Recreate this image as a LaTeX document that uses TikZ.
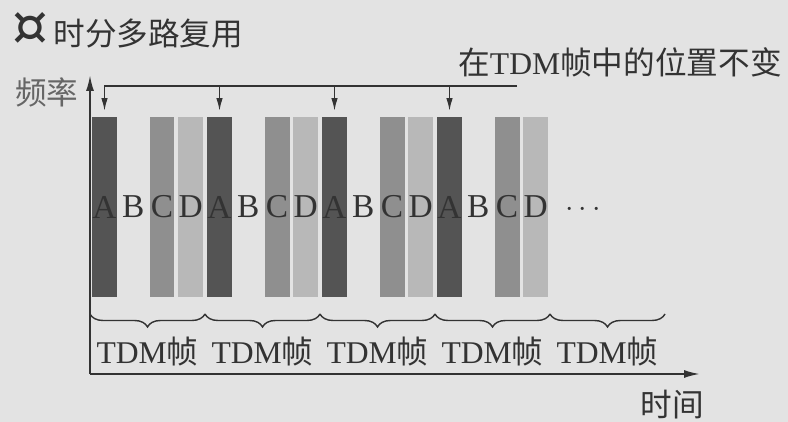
\documentclass[tikz,border=0pt]{standalone}
\usepackage{fontspec}
\setmainfont{Liberation Serif}
\newfontfamily\cjk{Noto Sans CJK SC}
\newfontfamily\symfont{DejaVu Sans}
\usetikzlibrary{arrows.meta,decorations.pathreplacing}
\definecolor{paper}{gray}{0.89}
\definecolor{ink}{gray}{0.2}
\definecolor{darkbar}{gray}{0.33}
\definecolor{midbar}{gray}{0.56}
\definecolor{lightbar}{gray}{0.72}

\begin{document}
\begin{tikzpicture}[
    x=0.02cm, y=0.02cm,
    slot/.style={rectangle, minimum width=0.5cm, minimum height=3.62cm, inner sep=0pt, text=ink, font=\fontsize{19}{19}\selectfont},
    slotA/.style={slot, fill=darkbar},
    slotB/.style={slot},
    slotC/.style={slot, fill=midbar},
    slotD/.style={slot, fill=lightbar},
    axis/.style={-{Latex[length=0.32cm, width=0.16cm]}, line width=1.1pt, ink},
    pointer/.style={-{Latex[length=0.26cm, width=0.13cm]}, line width=1pt, ink, shorten >=0.1cm},
    brace/.style={decorate, decoration={brace, amplitude=0.26cm, mirror}, line width=0.8pt, ink},
    label/.style={font=\fontsize{18}{18}\selectfont, text=ink, inner sep=0pt},
]
    \fill[paper] (0,0) rectangle (788,422);
    \useasboundingbox (0,0) rectangle (788,422);

    % title
    \node[label, anchor=west] (title) at (12,392) {{\symfont\fontsize{32}{32}\selectfont ¤}\,{\cjk 时分多路复用}};

    % axes
    \coordinate (origin) at (90,48);
    \coordinate (ytip) at (90,347);
    \coordinate (xtip) at (700,48);
    \draw[axis] (origin) -- (ytip);
    \draw[axis] (origin) -- (xtip);
    \node[label, text=gray!80!black] (freq) at (47,330) {\cjk 频率};
    \node[label] (time) at (672,17) {\cjk 时间};

    % time slots A B C D in four frames
    \foreach \f in {0,...,3}
        \foreach \l [count=\i from 0] in {A,B,C,D}
            \node[slot\l] (s\f-\l) at ({104.5+115*\f+28.75*\i},215) {\l};
    \node[label] (more) at (583,212) {$\cdots$};

    % A keeps its place in every frame
    \coordinate (rail) at (517,336);
    \draw[pointer] (rail) -| (s0-A.north);
    \foreach \f in {1,2,3}
        \draw[pointer] (s\f-A.north |- rail) -- (s\f-A.north);
    \node[label] (note) at (620,360) {{\cjk 在}TDM{\cjk 帧中的位置不变}};

    % frames
    \foreach \f in {0,...,4} {
        \draw[brace] ({90+115*\f},108) -- ({205+115*\f},108);
        \node[label] (frame\f) at ({147.5+115*\f},70) {TDM{\cjk 帧}};
    }
\end{tikzpicture}
\end{document}
